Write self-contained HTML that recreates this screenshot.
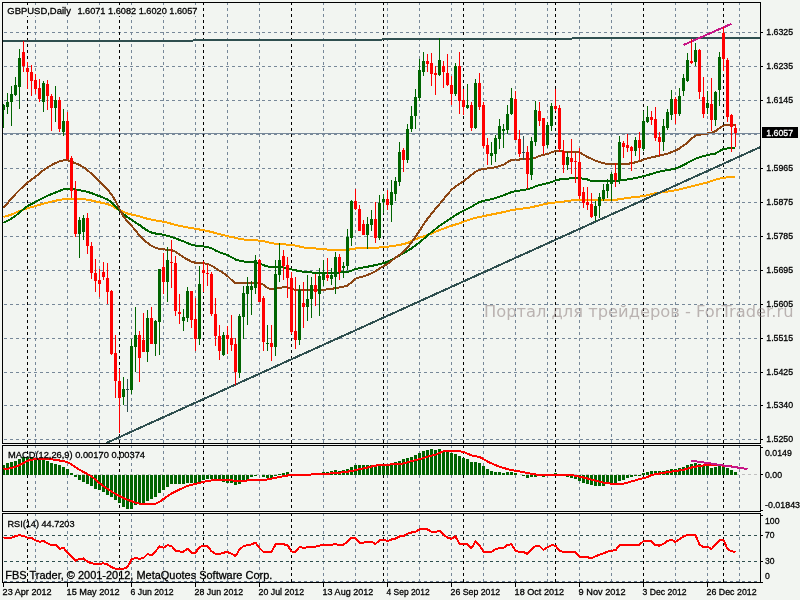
<!DOCTYPE html>
<html><head><meta charset="utf-8"><title>GBPUSD Daily</title>
<style>html,body{margin:0;padding:0;background:#f2f5f1;overflow:hidden}svg{display:block}text{font-family:"Liberation Sans",sans-serif;}</style></head><body>
<svg width="800" height="600" viewBox="0 0 800 600" shape-rendering="crispEdges">
<rect x="0" y="0" width="800" height="600" fill="#f2f5f1"/>
<g id="grid">
<line x1="4" y1="32.5" x2="760" y2="32.5" stroke="#778899" stroke-width="1" stroke-dasharray="3 3" stroke-dashoffset="0"/>
<line x1="4" y1="66.5" x2="760" y2="66.5" stroke="#778899" stroke-width="1" stroke-dasharray="3 3" stroke-dashoffset="0"/>
<line x1="4" y1="100.5" x2="760" y2="100.5" stroke="#778899" stroke-width="1" stroke-dasharray="3 3" stroke-dashoffset="0"/>
<line x1="4" y1="134.5" x2="760" y2="134.5" stroke="#778899" stroke-width="1" stroke-dasharray="3 3" stroke-dashoffset="0"/>
<line x1="4" y1="168.5" x2="760" y2="168.5" stroke="#778899" stroke-width="1" stroke-dasharray="3 3" stroke-dashoffset="0"/>
<line x1="4" y1="202.5" x2="760" y2="202.5" stroke="#778899" stroke-width="1" stroke-dasharray="3 3" stroke-dashoffset="0"/>
<line x1="4" y1="236.5" x2="760" y2="236.5" stroke="#778899" stroke-width="1" stroke-dasharray="3 3" stroke-dashoffset="0"/>
<line x1="4" y1="270.5" x2="760" y2="270.5" stroke="#778899" stroke-width="1" stroke-dasharray="3 3" stroke-dashoffset="0"/>
<line x1="4" y1="304.5" x2="760" y2="304.5" stroke="#778899" stroke-width="1" stroke-dasharray="3 3" stroke-dashoffset="0"/>
<line x1="4" y1="338.5" x2="760" y2="338.5" stroke="#778899" stroke-width="1" stroke-dasharray="3 3" stroke-dashoffset="0"/>
<line x1="4" y1="372.5" x2="760" y2="372.5" stroke="#778899" stroke-width="1" stroke-dasharray="3 3" stroke-dashoffset="0"/>
<line x1="4" y1="405.5" x2="760" y2="405.5" stroke="#778899" stroke-width="1" stroke-dasharray="3 3" stroke-dashoffset="0"/>
<line x1="4" y1="439.5" x2="760" y2="439.5" stroke="#778899" stroke-width="1" stroke-dasharray="3 3" stroke-dashoffset="0"/>
<line x1="35.5" y1="2" x2="35.5" y2="443" stroke="#778899" stroke-width="1" stroke-dasharray="3 3" stroke-dashoffset="0"/>
<line x1="67.5" y1="2" x2="67.5" y2="443" stroke="#778899" stroke-width="1" stroke-dasharray="3 3" stroke-dashoffset="0"/>
<line x1="99.5" y1="2" x2="99.5" y2="443" stroke="#778899" stroke-width="1" stroke-dasharray="3 3" stroke-dashoffset="0"/>
<line x1="131.5" y1="2" x2="131.5" y2="443" stroke="#778899" stroke-width="1" stroke-dasharray="3 3" stroke-dashoffset="0"/>
<line x1="163.5" y1="2" x2="163.5" y2="443" stroke="#778899" stroke-width="1" stroke-dasharray="3 3" stroke-dashoffset="0"/>
<line x1="195.5" y1="2" x2="195.5" y2="443" stroke="#778899" stroke-width="1" stroke-dasharray="3 3" stroke-dashoffset="0"/>
<line x1="227.5" y1="2" x2="227.5" y2="443" stroke="#778899" stroke-width="1" stroke-dasharray="3 3" stroke-dashoffset="0"/>
<line x1="259.5" y1="2" x2="259.5" y2="443" stroke="#778899" stroke-width="1" stroke-dasharray="3 3" stroke-dashoffset="0"/>
<line x1="323.5" y1="2" x2="323.5" y2="443" stroke="#778899" stroke-width="1" stroke-dasharray="3 3" stroke-dashoffset="0"/>
<line x1="355.5" y1="2" x2="355.5" y2="443" stroke="#778899" stroke-width="1" stroke-dasharray="3 3" stroke-dashoffset="0"/>
<line x1="387.5" y1="2" x2="387.5" y2="443" stroke="#778899" stroke-width="1" stroke-dasharray="3 3" stroke-dashoffset="0"/>
<line x1="419.5" y1="2" x2="419.5" y2="443" stroke="#778899" stroke-width="1" stroke-dasharray="3 3" stroke-dashoffset="0"/>
<line x1="451.5" y1="2" x2="451.5" y2="443" stroke="#778899" stroke-width="1" stroke-dasharray="3 3" stroke-dashoffset="0"/>
<line x1="483.5" y1="2" x2="483.5" y2="443" stroke="#778899" stroke-width="1" stroke-dasharray="3 3" stroke-dashoffset="0"/>
<line x1="515.5" y1="2" x2="515.5" y2="443" stroke="#778899" stroke-width="1" stroke-dasharray="3 3" stroke-dashoffset="0"/>
<line x1="547.5" y1="2" x2="547.5" y2="443" stroke="#778899" stroke-width="1" stroke-dasharray="3 3" stroke-dashoffset="0"/>
<line x1="579.5" y1="2" x2="579.5" y2="443" stroke="#778899" stroke-width="1" stroke-dasharray="3 3" stroke-dashoffset="0"/>
<line x1="611.5" y1="2" x2="611.5" y2="443" stroke="#778899" stroke-width="1" stroke-dasharray="3 3" stroke-dashoffset="0"/>
<line x1="675.5" y1="2" x2="675.5" y2="443" stroke="#778899" stroke-width="1" stroke-dasharray="3 3" stroke-dashoffset="0"/>
<line x1="707.5" y1="2" x2="707.5" y2="443" stroke="#778899" stroke-width="1" stroke-dasharray="3 3" stroke-dashoffset="0"/>
<line x1="739.5" y1="2" x2="739.5" y2="443" stroke="#778899" stroke-width="1" stroke-dasharray="3 3" stroke-dashoffset="0"/>
<line x1="27.5" y1="2" x2="27.5" y2="443" stroke="#000" stroke-width="1" stroke-dasharray="3 3" stroke-dashoffset="0"/>
<line x1="119.5" y1="2" x2="119.5" y2="443" stroke="#000" stroke-width="1" stroke-dasharray="3 3" stroke-dashoffset="0"/>
<line x1="203.5" y1="2" x2="203.5" y2="443" stroke="#000" stroke-width="1" stroke-dasharray="3 3" stroke-dashoffset="0"/>
<line x1="291.5" y1="2" x2="291.5" y2="443" stroke="#000" stroke-width="1" stroke-dasharray="3 3" stroke-dashoffset="0"/>
<line x1="383.5" y1="2" x2="383.5" y2="443" stroke="#000" stroke-width="1" stroke-dasharray="3 3" stroke-dashoffset="0"/>
<line x1="463.5" y1="2" x2="463.5" y2="443" stroke="#000" stroke-width="1" stroke-dasharray="3 3" stroke-dashoffset="0"/>
<line x1="555.5" y1="2" x2="555.5" y2="443" stroke="#000" stroke-width="1" stroke-dasharray="3 3" stroke-dashoffset="0"/>
<line x1="643.5" y1="2" x2="643.5" y2="443" stroke="#000" stroke-width="1" stroke-dasharray="3 3" stroke-dashoffset="0"/>
<line x1="723.5" y1="2" x2="723.5" y2="443" stroke="#000" stroke-width="1" stroke-dasharray="3 3" stroke-dashoffset="0"/>
<line x1="35.5" y1="445" x2="35.5" y2="511" stroke="#778899" stroke-width="1" stroke-dasharray="3 3" stroke-dashoffset="0"/>
<line x1="67.5" y1="445" x2="67.5" y2="511" stroke="#778899" stroke-width="1" stroke-dasharray="3 3" stroke-dashoffset="0"/>
<line x1="99.5" y1="445" x2="99.5" y2="511" stroke="#778899" stroke-width="1" stroke-dasharray="3 3" stroke-dashoffset="0"/>
<line x1="131.5" y1="445" x2="131.5" y2="511" stroke="#778899" stroke-width="1" stroke-dasharray="3 3" stroke-dashoffset="0"/>
<line x1="163.5" y1="445" x2="163.5" y2="511" stroke="#778899" stroke-width="1" stroke-dasharray="3 3" stroke-dashoffset="0"/>
<line x1="195.5" y1="445" x2="195.5" y2="511" stroke="#778899" stroke-width="1" stroke-dasharray="3 3" stroke-dashoffset="0"/>
<line x1="227.5" y1="445" x2="227.5" y2="511" stroke="#778899" stroke-width="1" stroke-dasharray="3 3" stroke-dashoffset="0"/>
<line x1="259.5" y1="445" x2="259.5" y2="511" stroke="#778899" stroke-width="1" stroke-dasharray="3 3" stroke-dashoffset="0"/>
<line x1="323.5" y1="445" x2="323.5" y2="511" stroke="#778899" stroke-width="1" stroke-dasharray="3 3" stroke-dashoffset="0"/>
<line x1="355.5" y1="445" x2="355.5" y2="511" stroke="#778899" stroke-width="1" stroke-dasharray="3 3" stroke-dashoffset="0"/>
<line x1="387.5" y1="445" x2="387.5" y2="511" stroke="#778899" stroke-width="1" stroke-dasharray="3 3" stroke-dashoffset="0"/>
<line x1="419.5" y1="445" x2="419.5" y2="511" stroke="#778899" stroke-width="1" stroke-dasharray="3 3" stroke-dashoffset="0"/>
<line x1="451.5" y1="445" x2="451.5" y2="511" stroke="#778899" stroke-width="1" stroke-dasharray="3 3" stroke-dashoffset="0"/>
<line x1="483.5" y1="445" x2="483.5" y2="511" stroke="#778899" stroke-width="1" stroke-dasharray="3 3" stroke-dashoffset="0"/>
<line x1="515.5" y1="445" x2="515.5" y2="511" stroke="#778899" stroke-width="1" stroke-dasharray="3 3" stroke-dashoffset="0"/>
<line x1="547.5" y1="445" x2="547.5" y2="511" stroke="#778899" stroke-width="1" stroke-dasharray="3 3" stroke-dashoffset="0"/>
<line x1="579.5" y1="445" x2="579.5" y2="511" stroke="#778899" stroke-width="1" stroke-dasharray="3 3" stroke-dashoffset="0"/>
<line x1="611.5" y1="445" x2="611.5" y2="511" stroke="#778899" stroke-width="1" stroke-dasharray="3 3" stroke-dashoffset="0"/>
<line x1="675.5" y1="445" x2="675.5" y2="511" stroke="#778899" stroke-width="1" stroke-dasharray="3 3" stroke-dashoffset="0"/>
<line x1="707.5" y1="445" x2="707.5" y2="511" stroke="#778899" stroke-width="1" stroke-dasharray="3 3" stroke-dashoffset="0"/>
<line x1="739.5" y1="445" x2="739.5" y2="511" stroke="#778899" stroke-width="1" stroke-dasharray="3 3" stroke-dashoffset="0"/>
<line x1="27.5" y1="445" x2="27.5" y2="511" stroke="#000" stroke-width="1" stroke-dasharray="3 3" stroke-dashoffset="0"/>
<line x1="119.5" y1="445" x2="119.5" y2="511" stroke="#000" stroke-width="1" stroke-dasharray="3 3" stroke-dashoffset="0"/>
<line x1="203.5" y1="445" x2="203.5" y2="511" stroke="#000" stroke-width="1" stroke-dasharray="3 3" stroke-dashoffset="0"/>
<line x1="291.5" y1="445" x2="291.5" y2="511" stroke="#000" stroke-width="1" stroke-dasharray="3 3" stroke-dashoffset="0"/>
<line x1="383.5" y1="445" x2="383.5" y2="511" stroke="#000" stroke-width="1" stroke-dasharray="3 3" stroke-dashoffset="0"/>
<line x1="463.5" y1="445" x2="463.5" y2="511" stroke="#000" stroke-width="1" stroke-dasharray="3 3" stroke-dashoffset="0"/>
<line x1="555.5" y1="445" x2="555.5" y2="511" stroke="#000" stroke-width="1" stroke-dasharray="3 3" stroke-dashoffset="0"/>
<line x1="643.5" y1="445" x2="643.5" y2="511" stroke="#000" stroke-width="1" stroke-dasharray="3 3" stroke-dashoffset="0"/>
<line x1="723.5" y1="445" x2="723.5" y2="511" stroke="#000" stroke-width="1" stroke-dasharray="3 3" stroke-dashoffset="0"/>
<line x1="35.5" y1="513" x2="35.5" y2="582" stroke="#778899" stroke-width="1" stroke-dasharray="3 3" stroke-dashoffset="0"/>
<line x1="67.5" y1="513" x2="67.5" y2="582" stroke="#778899" stroke-width="1" stroke-dasharray="3 3" stroke-dashoffset="0"/>
<line x1="99.5" y1="513" x2="99.5" y2="582" stroke="#778899" stroke-width="1" stroke-dasharray="3 3" stroke-dashoffset="0"/>
<line x1="131.5" y1="513" x2="131.5" y2="582" stroke="#778899" stroke-width="1" stroke-dasharray="3 3" stroke-dashoffset="0"/>
<line x1="163.5" y1="513" x2="163.5" y2="582" stroke="#778899" stroke-width="1" stroke-dasharray="3 3" stroke-dashoffset="0"/>
<line x1="195.5" y1="513" x2="195.5" y2="582" stroke="#778899" stroke-width="1" stroke-dasharray="3 3" stroke-dashoffset="0"/>
<line x1="227.5" y1="513" x2="227.5" y2="582" stroke="#778899" stroke-width="1" stroke-dasharray="3 3" stroke-dashoffset="0"/>
<line x1="259.5" y1="513" x2="259.5" y2="582" stroke="#778899" stroke-width="1" stroke-dasharray="3 3" stroke-dashoffset="0"/>
<line x1="323.5" y1="513" x2="323.5" y2="582" stroke="#778899" stroke-width="1" stroke-dasharray="3 3" stroke-dashoffset="0"/>
<line x1="355.5" y1="513" x2="355.5" y2="582" stroke="#778899" stroke-width="1" stroke-dasharray="3 3" stroke-dashoffset="0"/>
<line x1="387.5" y1="513" x2="387.5" y2="582" stroke="#778899" stroke-width="1" stroke-dasharray="3 3" stroke-dashoffset="0"/>
<line x1="419.5" y1="513" x2="419.5" y2="582" stroke="#778899" stroke-width="1" stroke-dasharray="3 3" stroke-dashoffset="0"/>
<line x1="451.5" y1="513" x2="451.5" y2="582" stroke="#778899" stroke-width="1" stroke-dasharray="3 3" stroke-dashoffset="0"/>
<line x1="483.5" y1="513" x2="483.5" y2="582" stroke="#778899" stroke-width="1" stroke-dasharray="3 3" stroke-dashoffset="0"/>
<line x1="515.5" y1="513" x2="515.5" y2="582" stroke="#778899" stroke-width="1" stroke-dasharray="3 3" stroke-dashoffset="0"/>
<line x1="547.5" y1="513" x2="547.5" y2="582" stroke="#778899" stroke-width="1" stroke-dasharray="3 3" stroke-dashoffset="0"/>
<line x1="579.5" y1="513" x2="579.5" y2="582" stroke="#778899" stroke-width="1" stroke-dasharray="3 3" stroke-dashoffset="0"/>
<line x1="611.5" y1="513" x2="611.5" y2="582" stroke="#778899" stroke-width="1" stroke-dasharray="3 3" stroke-dashoffset="0"/>
<line x1="675.5" y1="513" x2="675.5" y2="582" stroke="#778899" stroke-width="1" stroke-dasharray="3 3" stroke-dashoffset="0"/>
<line x1="707.5" y1="513" x2="707.5" y2="582" stroke="#778899" stroke-width="1" stroke-dasharray="3 3" stroke-dashoffset="0"/>
<line x1="739.5" y1="513" x2="739.5" y2="582" stroke="#778899" stroke-width="1" stroke-dasharray="3 3" stroke-dashoffset="0"/>
<line x1="27.5" y1="513" x2="27.5" y2="582" stroke="#000" stroke-width="1" stroke-dasharray="3 3" stroke-dashoffset="0"/>
<line x1="119.5" y1="513" x2="119.5" y2="582" stroke="#000" stroke-width="1" stroke-dasharray="3 3" stroke-dashoffset="0"/>
<line x1="203.5" y1="513" x2="203.5" y2="582" stroke="#000" stroke-width="1" stroke-dasharray="3 3" stroke-dashoffset="0"/>
<line x1="291.5" y1="513" x2="291.5" y2="582" stroke="#000" stroke-width="1" stroke-dasharray="3 3" stroke-dashoffset="0"/>
<line x1="383.5" y1="513" x2="383.5" y2="582" stroke="#000" stroke-width="1" stroke-dasharray="3 3" stroke-dashoffset="0"/>
<line x1="463.5" y1="513" x2="463.5" y2="582" stroke="#000" stroke-width="1" stroke-dasharray="3 3" stroke-dashoffset="0"/>
<line x1="555.5" y1="513" x2="555.5" y2="582" stroke="#000" stroke-width="1" stroke-dasharray="3 3" stroke-dashoffset="0"/>
<line x1="643.5" y1="513" x2="643.5" y2="582" stroke="#000" stroke-width="1" stroke-dasharray="3 3" stroke-dashoffset="0"/>
<line x1="723.5" y1="513" x2="723.5" y2="582" stroke="#000" stroke-width="1" stroke-dasharray="3 3" stroke-dashoffset="0"/>
</g>
<line x1="4" y1="535.5" x2="760" y2="535.5" stroke="#2f4f4f" stroke-width="1" stroke-dasharray="3 3" stroke-dashoffset="0"/>
<line x1="4" y1="561.5" x2="760" y2="561.5" stroke="#2f4f4f" stroke-width="1" stroke-dasharray="3 3" stroke-dashoffset="0"/>
<line x1="4" y1="581.5" x2="760" y2="581.5" stroke="#66788a" stroke-width="1" stroke-dasharray="3 3" stroke-dashoffset="0"/>
<line x1="4" y1="474.5" x2="760" y2="474.5" stroke="#c0c0c0" stroke-width="1" stroke-dasharray="3 3" stroke-dashoffset="0"/>
<rect x="5" y="5" width="195" height="11" fill="#f2f5f1"/>
<polyline points="3.5,217.0 7.5,215.8 11.5,214.5 15.5,212.8 19.5,211.0 23.5,209.6 27.5,208.3 31.5,207.2 35.5,206.1 39.5,204.8 43.5,203.6 47.5,202.6 51.5,201.6 55.5,200.7 59.5,199.9 63.5,199.3 67.5,198.9 71.5,198.6 75.5,198.6 79.5,198.8 83.5,199.1 87.5,199.7 91.5,200.5 95.5,201.4 99.5,202.3 103.5,203.2 107.5,204.2 111.5,205.6 115.5,208.0 119.5,210.1 123.5,212.0 127.5,213.5 131.5,214.5 135.5,215.4 139.5,216.4 143.5,217.6 147.5,218.8 151.5,219.7 155.5,220.4 159.5,221.1 163.5,221.8 167.5,222.7 171.5,223.8 175.5,224.9 179.5,225.8 183.5,226.7 187.5,227.4 191.5,228.1 195.5,228.8 199.5,229.5 203.5,230.2 207.5,231.0 211.5,232.0 215.5,233.0 219.5,234.1 223.5,235.1 227.5,236.1 231.5,237.0 235.5,237.9 239.5,238.8 243.5,239.5 247.5,240.0 251.5,240.2 255.5,240.4 259.5,240.6 263.5,241.2 267.5,242.1 271.5,243.1 275.5,243.8 279.5,244.1 283.5,244.4 287.5,244.6 291.5,245.0 295.5,245.6 299.5,246.5 303.5,247.4 307.5,248.0 311.5,248.3 315.5,248.5 319.5,248.7 323.5,249.0 327.5,249.6 331.5,249.8 335.5,249.8 339.5,249.8 343.5,249.8 347.5,249.8 351.5,249.2 355.5,248.5 359.5,248.3 363.5,248.2 367.5,248.1 371.5,247.9 375.5,247.8 379.5,247.5 383.5,247.2 387.5,246.7 391.5,246.1 395.5,245.6 399.5,244.9 403.5,244.1 407.5,242.9 411.5,241.0 415.5,239.3 419.5,237.7 423.5,236.5 427.5,235.2 431.5,233.5 435.5,231.7 439.5,230.1 443.5,228.6 447.5,227.1 451.5,225.8 455.5,224.5 459.5,223.3 463.5,221.8 467.5,220.2 471.5,219.0 475.5,217.9 479.5,217.0 483.5,216.1 487.5,215.3 491.5,214.5 495.5,213.7 499.5,212.9 503.5,212.1 507.5,211.1 511.5,210.2 515.5,209.5 519.5,209.0 523.5,208.5 527.5,207.9 531.5,207.2 535.5,206.3 539.5,205.3 543.5,204.3 547.5,203.5 551.5,202.9 555.5,202.5 559.5,202.1 563.5,201.6 567.5,201.0 571.5,200.5 575.5,200.1 579.5,200.0 583.5,200.0 587.5,200.0 591.5,200.0 595.5,200.0 599.5,200.0 603.5,200.0 607.5,200.0 611.5,200.0 615.5,199.8 619.5,199.2 623.5,198.6 627.5,198.0 631.5,197.5 635.5,197.1 639.5,196.6 643.5,196.0 647.5,195.2 651.5,194.2 655.5,193.3 659.5,192.7 663.5,192.1 667.5,191.6 671.5,191.0 675.5,190.3 679.5,189.4 683.5,188.4 687.5,187.3 691.5,186.3 695.5,185.3 699.5,184.3 703.5,183.3 707.5,182.3 711.5,181.0 715.5,179.7 719.5,178.6 723.5,177.8 727.5,177.4 731.5,177.1 735.5,177.0" fill="none" stroke="#ffa500" stroke-width="2" stroke-linejoin="round"/>
<polyline points="3.5,222.8 7.5,220.9 11.5,218.6 15.5,215.8 19.5,212.6 23.5,209.2 27.5,206.1 31.5,203.9 35.5,201.9 39.5,199.8 43.5,197.7 47.5,195.8 51.5,194.1 55.5,192.5 59.5,191.0 63.5,189.3 67.5,188.8 71.5,189.0 75.5,189.5 79.5,190.2 83.5,190.9 87.5,191.9 91.5,193.2 95.5,194.7 99.5,196.2 103.5,197.7 107.5,199.6 111.5,202.1 115.5,206.1 119.5,210.4 123.5,214.2 127.5,217.1 131.5,219.8 135.5,222.4 139.5,225.0 143.5,228.0 147.5,230.7 151.5,232.6 155.5,233.5 159.5,234.1 163.5,234.8 167.5,235.8 171.5,237.1 175.5,238.4 179.5,239.8 183.5,241.4 187.5,243.1 191.5,244.7 195.5,245.7 199.5,246.1 203.5,246.5 207.5,247.0 211.5,248.3 215.5,250.4 219.5,252.3 223.5,253.6 227.5,255.0 231.5,257.2 235.5,259.5 239.5,260.6 243.5,261.4 247.5,261.9 251.5,262.0 255.5,262.0 259.5,263.1 263.5,265.2 267.5,266.5 271.5,266.7 275.5,266.8 279.5,267.0 283.5,267.6 287.5,268.5 291.5,269.4 295.5,270.3 299.5,271.1 303.5,271.8 307.5,272.2 311.5,272.5 315.5,272.7 319.5,272.8 323.5,272.8 327.5,272.8 331.5,272.7 335.5,272.7 339.5,272.5 343.5,272.3 347.5,272.0 351.5,270.7 355.5,269.0 359.5,268.1 363.5,267.4 367.5,266.7 371.5,265.9 375.5,265.1 379.5,264.1 383.5,263.1 387.5,261.9 391.5,260.0 395.5,257.8 399.5,255.5 403.5,253.2 407.5,250.9 411.5,248.4 415.5,245.4 419.5,242.3 423.5,239.0 427.5,235.6 431.5,232.2 435.5,229.0 439.5,225.9 443.5,223.1 447.5,220.4 451.5,217.8 455.5,215.2 459.5,212.8 463.5,210.7 467.5,208.8 471.5,206.7 475.5,204.2 479.5,202.1 483.5,200.9 487.5,200.0 491.5,199.2 495.5,198.1 499.5,196.8 503.5,195.3 507.5,193.7 511.5,192.2 515.5,191.2 519.5,190.6 523.5,190.0 527.5,189.3 531.5,188.2 535.5,186.4 539.5,185.0 543.5,184.1 547.5,183.2 551.5,182.1 555.5,180.3 559.5,179.5 563.5,179.1 567.5,178.8 571.5,178.1 575.5,178.0 579.5,178.3 583.5,178.6 587.5,179.5 591.5,181.1 595.5,181.2 599.5,181.2 603.5,181.2 607.5,181.2 611.5,181.2 615.5,181.1 619.5,180.6 623.5,180.0 627.5,179.4 631.5,178.8 635.5,178.0 639.5,177.2 643.5,176.2 647.5,175.2 651.5,173.9 655.5,172.7 659.5,171.6 663.5,170.8 667.5,170.1 671.5,169.4 675.5,168.5 679.5,167.1 683.5,165.1 687.5,162.9 691.5,160.7 695.5,158.8 699.5,157.3 703.5,156.1 707.5,155.0 711.5,154.3 715.5,153.5 719.5,151.1 723.5,149.0 727.5,148.4 731.5,148.1 735.5,148.0" fill="none" stroke="#006400" stroke-width="2" stroke-linejoin="round"/>
<polyline points="3.5,208.1 7.5,203.2 11.5,198.5 15.5,194.1 19.5,190.0 23.5,186.2 27.5,182.7 31.5,179.7 35.5,176.8 39.5,173.4 43.5,170.1 47.5,167.4 51.5,165.1 55.5,163.0 59.5,161.4 63.5,160.3 67.5,160.2 71.5,161.7 75.5,163.3 79.5,165.0 83.5,167.2 87.5,170.2 91.5,173.8 95.5,177.6 99.5,181.4 103.5,185.3 107.5,189.6 111.5,194.4 115.5,200.8 119.5,209.0 123.5,216.3 127.5,221.6 131.5,225.7 135.5,230.5 139.5,235.4 143.5,239.5 147.5,242.9 151.5,245.9 155.5,247.8 159.5,248.8 163.5,249.4 167.5,249.7 171.5,250.1 175.5,251.8 179.5,254.6 183.5,257.2 187.5,259.5 191.5,261.7 195.5,262.8 199.5,263.1 203.5,263.4 207.5,263.8 211.5,265.6 215.5,268.3 219.5,270.7 223.5,273.2 227.5,276.0 231.5,280.0 235.5,283.0 239.5,283.0 243.5,283.0 247.5,283.0 251.5,283.0 255.5,283.0 259.5,283.0 263.5,284.8 267.5,288.0 271.5,289.4 275.5,288.8 279.5,288.0 283.5,287.1 287.5,287.6 291.5,289.2 295.5,289.7 299.5,290.0 303.5,290.0 307.5,290.0 311.5,290.0 315.5,290.0 319.5,290.0 323.5,289.7 327.5,289.4 331.5,288.9 335.5,288.1 339.5,287.4 343.5,286.7 347.5,285.6 351.5,282.3 355.5,278.8 359.5,277.4 363.5,276.3 367.5,274.9 371.5,273.2 375.5,271.2 379.5,268.4 383.5,266.1 387.5,263.8 391.5,260.8 395.5,257.7 399.5,254.9 403.5,251.6 407.5,247.4 411.5,242.5 415.5,236.8 419.5,230.8 423.5,224.6 427.5,218.8 431.5,213.6 435.5,208.8 439.5,204.1 443.5,199.4 447.5,194.3 451.5,189.8 455.5,186.5 459.5,183.8 463.5,181.1 467.5,178.1 471.5,174.8 475.5,171.8 479.5,169.9 483.5,169.0 487.5,168.5 491.5,168.0 495.5,167.2 499.5,166.1 503.5,164.8 507.5,162.2 511.5,159.8 515.5,159.5 519.5,159.5 523.5,159.4 527.5,159.2 531.5,158.9 535.5,157.7 539.5,155.8 543.5,154.8 547.5,154.0 551.5,152.4 555.5,150.9 559.5,150.8 563.5,151.5 567.5,151.5 571.5,151.5 575.5,151.5 579.5,152.5 583.5,154.8 587.5,157.0 591.5,158.8 595.5,160.6 599.5,162.0 603.5,163.1 607.5,164.0 611.5,164.4 615.5,164.4 619.5,164.2 623.5,164.0 627.5,163.8 631.5,163.2 635.5,162.3 639.5,161.2 643.5,159.8 647.5,158.3 651.5,157.3 655.5,156.5 659.5,155.7 663.5,154.7 667.5,153.6 671.5,152.2 675.5,150.6 679.5,148.4 683.5,145.6 687.5,142.5 691.5,138.6 695.5,135.6 699.5,134.7 703.5,134.2 707.5,133.5 711.5,132.6 715.5,131.2 719.5,128.2 723.5,125.6 727.5,125.0 731.5,124.8 735.5,125.6" fill="none" stroke="#8b4513" stroke-width="2" stroke-linejoin="round"/>
<rect x="3" y="40" width="190" height="2" fill="#2f4f4f"/>
<rect x="193" y="39" width="189" height="2" fill="#2f4f4f"/>
<rect x="382" y="38" width="190" height="2" fill="#2f4f4f"/>
<rect x="572" y="37" width="188" height="2" fill="#2f4f4f"/>
<polyline points="106.4,443.0 760.0,147.2" fill="none" stroke="#2f4f4f" stroke-width="2" stroke-linejoin="round"/>
<polyline points="683.5,45.0 731.5,23.8" fill="none" stroke="#c71585" stroke-width="2" stroke-linejoin="round"/>
<line x1="3" y1="133.5" x2="760" y2="133.5" stroke="#778899" stroke-width="1"/>
<g id="candles">
<rect x="3" y="104" width="1" height="24" fill="#006400"/>
<rect x="2" y="105" width="3" height="5" fill="#006400"/>
<rect x="7" y="93" width="1" height="21" fill="#006400"/>
<rect x="6" y="102" width="3" height="5" fill="#006400"/>
<rect x="11" y="86" width="1" height="40" fill="#006400"/>
<rect x="10" y="94" width="3" height="8" fill="#006400"/>
<rect x="15" y="77" width="1" height="19" fill="#006400"/>
<rect x="14" y="85" width="3" height="10" fill="#006400"/>
<rect x="19" y="49" width="1" height="60" fill="#006400"/>
<rect x="18" y="58" width="3" height="29" fill="#006400"/>
<rect x="23" y="41" width="1" height="31" fill="#ff0000"/>
<rect x="22" y="52" width="3" height="14" fill="#ff0000"/>
<rect x="27" y="62" width="1" height="27" fill="#ff0000"/>
<rect x="26" y="68" width="3" height="4" fill="#ff0000"/>
<rect x="31" y="65" width="1" height="31" fill="#ff0000"/>
<rect x="30" y="72" width="3" height="9" fill="#ff0000"/>
<rect x="35" y="74" width="1" height="20" fill="#ff0000"/>
<rect x="34" y="80" width="3" height="9" fill="#ff0000"/>
<rect x="39" y="79" width="1" height="23" fill="#ff0000"/>
<rect x="38" y="88" width="3" height="11" fill="#ff0000"/>
<rect x="43" y="81" width="1" height="31" fill="#006400"/>
<rect x="42" y="83" width="3" height="19" fill="#006400"/>
<rect x="47" y="80" width="1" height="30" fill="#ff0000"/>
<rect x="46" y="84" width="3" height="12" fill="#ff0000"/>
<rect x="51" y="94" width="1" height="37" fill="#ff0000"/>
<rect x="50" y="96" width="3" height="12" fill="#ff0000"/>
<rect x="55" y="86" width="1" height="36" fill="#006400"/>
<rect x="54" y="100" width="3" height="8" fill="#006400"/>
<rect x="59" y="97" width="1" height="35" fill="#ff0000"/>
<rect x="58" y="100" width="3" height="29" fill="#ff0000"/>
<rect x="63" y="109" width="1" height="27" fill="#006400"/>
<rect x="62" y="121" width="3" height="11" fill="#006400"/>
<rect x="67" y="112" width="1" height="48" fill="#ff0000"/>
<rect x="66" y="121" width="3" height="38" fill="#ff0000"/>
<rect x="71" y="156" width="1" height="42" fill="#ff0000"/>
<rect x="70" y="158" width="3" height="33" fill="#ff0000"/>
<rect x="75" y="181" width="1" height="56" fill="#ff0000"/>
<rect x="74" y="190" width="3" height="44" fill="#ff0000"/>
<rect x="79" y="217" width="1" height="41" fill="#006400"/>
<rect x="78" y="220" width="3" height="14" fill="#006400"/>
<rect x="83" y="215" width="1" height="25" fill="#006400"/>
<rect x="82" y="218" width="3" height="14" fill="#006400"/>
<rect x="87" y="213" width="1" height="41" fill="#ff0000"/>
<rect x="86" y="218" width="3" height="28" fill="#ff0000"/>
<rect x="91" y="242" width="1" height="37" fill="#ff0000"/>
<rect x="90" y="246" width="3" height="27" fill="#ff0000"/>
<rect x="95" y="259" width="1" height="33" fill="#ff0000"/>
<rect x="94" y="273" width="3" height="8" fill="#ff0000"/>
<rect x="99" y="269" width="1" height="28" fill="#ff0000"/>
<rect x="98" y="280" width="3" height="4" fill="#ff0000"/>
<rect x="103" y="262" width="1" height="18" fill="#ff0000"/>
<rect x="102" y="272" width="3" height="5" fill="#ff0000"/>
<rect x="107" y="263" width="1" height="41" fill="#ff0000"/>
<rect x="106" y="278" width="3" height="14" fill="#ff0000"/>
<rect x="111" y="290" width="1" height="65" fill="#ff0000"/>
<rect x="110" y="291" width="3" height="63" fill="#ff0000"/>
<rect x="115" y="335" width="1" height="63" fill="#ff0000"/>
<rect x="114" y="353" width="3" height="28" fill="#ff0000"/>
<rect x="119" y="369" width="1" height="64" fill="#ff0000"/>
<rect x="118" y="381" width="3" height="17" fill="#ff0000"/>
<rect x="123" y="377" width="1" height="28" fill="#006400"/>
<rect x="122" y="389" width="3" height="8" fill="#006400"/>
<rect x="127" y="379" width="1" height="33" fill="#2f4f4f"/>
<rect x="126" y="389" width="3" height="1" fill="#2f4f4f"/>
<rect x="131" y="339" width="1" height="55" fill="#006400"/>
<rect x="130" y="346" width="3" height="44" fill="#006400"/>
<rect x="135" y="307" width="1" height="65" fill="#006400"/>
<rect x="134" y="335" width="3" height="12" fill="#006400"/>
<rect x="139" y="331" width="1" height="51" fill="#ff0000"/>
<rect x="138" y="335" width="3" height="23" fill="#ff0000"/>
<rect x="143" y="313" width="1" height="39" fill="#ff0000"/>
<rect x="142" y="340" width="3" height="12" fill="#ff0000"/>
<rect x="147" y="310" width="1" height="52" fill="#006400"/>
<rect x="146" y="318" width="3" height="34" fill="#006400"/>
<rect x="151" y="307" width="1" height="37" fill="#ff0000"/>
<rect x="150" y="318" width="3" height="26" fill="#ff0000"/>
<rect x="155" y="320" width="1" height="36" fill="#006400"/>
<rect x="154" y="321" width="3" height="23" fill="#006400"/>
<rect x="159" y="269" width="1" height="86" fill="#006400"/>
<rect x="158" y="269" width="3" height="53" fill="#006400"/>
<rect x="163" y="253" width="1" height="41" fill="#ff0000"/>
<rect x="162" y="267" width="3" height="15" fill="#ff0000"/>
<rect x="167" y="247" width="1" height="55" fill="#006400"/>
<rect x="166" y="260" width="3" height="22" fill="#006400"/>
<rect x="171" y="240" width="1" height="48" fill="#ff0000"/>
<rect x="170" y="262" width="3" height="1" fill="#ff0000"/>
<rect x="175" y="256" width="1" height="60" fill="#ff0000"/>
<rect x="174" y="263" width="3" height="48" fill="#ff0000"/>
<rect x="179" y="294" width="1" height="30" fill="#ff0000"/>
<rect x="178" y="312" width="3" height="2" fill="#ff0000"/>
<rect x="183" y="309" width="1" height="22" fill="#006400"/>
<rect x="182" y="317" width="3" height="4" fill="#006400"/>
<rect x="187" y="287" width="1" height="35" fill="#006400"/>
<rect x="186" y="291" width="3" height="27" fill="#006400"/>
<rect x="191" y="291" width="1" height="37" fill="#ff0000"/>
<rect x="190" y="291" width="3" height="29" fill="#ff0000"/>
<rect x="195" y="298" width="1" height="53" fill="#ff0000"/>
<rect x="194" y="319" width="3" height="20" fill="#ff0000"/>
<rect x="199" y="266" width="1" height="79" fill="#006400"/>
<rect x="198" y="284" width="3" height="55" fill="#006400"/>
<rect x="203" y="261" width="1" height="31" fill="#ff0000"/>
<rect x="202" y="270" width="3" height="3" fill="#ff0000"/>
<rect x="207" y="264" width="1" height="22" fill="#ff0000"/>
<rect x="206" y="273" width="3" height="1" fill="#ff0000"/>
<rect x="211" y="272" width="1" height="44" fill="#ff0000"/>
<rect x="210" y="274" width="3" height="40" fill="#ff0000"/>
<rect x="215" y="298" width="1" height="48" fill="#ff0000"/>
<rect x="214" y="314" width="3" height="22" fill="#ff0000"/>
<rect x="219" y="325" width="1" height="35" fill="#ff0000"/>
<rect x="218" y="336" width="3" height="15" fill="#ff0000"/>
<rect x="223" y="332" width="1" height="24" fill="#006400"/>
<rect x="222" y="335" width="3" height="20" fill="#006400"/>
<rect x="227" y="326" width="1" height="28" fill="#ff0000"/>
<rect x="226" y="335" width="3" height="4" fill="#ff0000"/>
<rect x="231" y="315" width="1" height="36" fill="#ff0000"/>
<rect x="230" y="338" width="3" height="7" fill="#ff0000"/>
<rect x="235" y="338" width="1" height="47" fill="#ff0000"/>
<rect x="234" y="344" width="3" height="28" fill="#ff0000"/>
<rect x="239" y="314" width="1" height="64" fill="#006400"/>
<rect x="238" y="316" width="3" height="57" fill="#006400"/>
<rect x="243" y="286" width="1" height="53" fill="#006400"/>
<rect x="242" y="293" width="3" height="24" fill="#006400"/>
<rect x="247" y="277" width="1" height="48" fill="#006400"/>
<rect x="246" y="286" width="3" height="8" fill="#006400"/>
<rect x="251" y="281" width="1" height="34" fill="#006400"/>
<rect x="250" y="286" width="3" height="4" fill="#006400"/>
<rect x="255" y="255" width="1" height="39" fill="#006400"/>
<rect x="254" y="260" width="3" height="28" fill="#006400"/>
<rect x="259" y="259" width="1" height="43" fill="#ff0000"/>
<rect x="258" y="260" width="3" height="42" fill="#ff0000"/>
<rect x="263" y="296" width="1" height="55" fill="#ff0000"/>
<rect x="262" y="298" width="3" height="44" fill="#ff0000"/>
<rect x="267" y="325" width="1" height="26" fill="#006400"/>
<rect x="266" y="343" width="3" height="1" fill="#006400"/>
<rect x="271" y="325" width="1" height="36" fill="#ff0000"/>
<rect x="270" y="343" width="3" height="4" fill="#ff0000"/>
<rect x="275" y="260" width="1" height="96" fill="#006400"/>
<rect x="274" y="274" width="3" height="73" fill="#006400"/>
<rect x="279" y="243" width="1" height="39" fill="#006400"/>
<rect x="278" y="260" width="3" height="15" fill="#006400"/>
<rect x="283" y="250" width="1" height="30" fill="#ff0000"/>
<rect x="282" y="256" width="3" height="10" fill="#ff0000"/>
<rect x="287" y="257" width="1" height="41" fill="#ff0000"/>
<rect x="286" y="265" width="3" height="13" fill="#ff0000"/>
<rect x="291" y="272" width="1" height="62" fill="#ff0000"/>
<rect x="290" y="278" width="3" height="54" fill="#ff0000"/>
<rect x="295" y="277" width="1" height="72" fill="#ff0000"/>
<rect x="294" y="331" width="3" height="9" fill="#ff0000"/>
<rect x="299" y="285" width="1" height="60" fill="#006400"/>
<rect x="298" y="290" width="3" height="50" fill="#006400"/>
<rect x="303" y="282" width="1" height="46" fill="#ff0000"/>
<rect x="302" y="303" width="3" height="4" fill="#ff0000"/>
<rect x="307" y="275" width="1" height="46" fill="#006400"/>
<rect x="306" y="299" width="3" height="8" fill="#006400"/>
<rect x="311" y="277" width="1" height="41" fill="#006400"/>
<rect x="310" y="285" width="3" height="14" fill="#006400"/>
<rect x="315" y="274" width="1" height="32" fill="#ff0000"/>
<rect x="314" y="285" width="3" height="7" fill="#ff0000"/>
<rect x="319" y="268" width="1" height="48" fill="#006400"/>
<rect x="318" y="276" width="3" height="18" fill="#006400"/>
<rect x="323" y="260" width="1" height="26" fill="#006400"/>
<rect x="322" y="272" width="3" height="8" fill="#006400"/>
<rect x="327" y="258" width="1" height="23" fill="#ff0000"/>
<rect x="326" y="275" width="3" height="3" fill="#ff0000"/>
<rect x="331" y="268" width="1" height="17" fill="#006400"/>
<rect x="330" y="275" width="3" height="4" fill="#006400"/>
<rect x="335" y="252" width="1" height="42" fill="#006400"/>
<rect x="334" y="257" width="3" height="20" fill="#006400"/>
<rect x="339" y="254" width="1" height="26" fill="#ff0000"/>
<rect x="338" y="257" width="3" height="15" fill="#ff0000"/>
<rect x="343" y="262" width="1" height="16" fill="#006400"/>
<rect x="342" y="266" width="3" height="2" fill="#006400"/>
<rect x="347" y="229" width="1" height="41" fill="#006400"/>
<rect x="346" y="237" width="3" height="29" fill="#006400"/>
<rect x="351" y="200" width="1" height="46" fill="#006400"/>
<rect x="350" y="201" width="3" height="37" fill="#006400"/>
<rect x="355" y="189" width="1" height="21" fill="#ff0000"/>
<rect x="354" y="201" width="3" height="8" fill="#ff0000"/>
<rect x="359" y="205" width="1" height="26" fill="#ff0000"/>
<rect x="358" y="209" width="3" height="22" fill="#ff0000"/>
<rect x="363" y="220" width="1" height="15" fill="#ff0000"/>
<rect x="362" y="224" width="3" height="11" fill="#ff0000"/>
<rect x="367" y="217" width="1" height="32" fill="#006400"/>
<rect x="366" y="224" width="3" height="11" fill="#006400"/>
<rect x="371" y="210" width="1" height="21" fill="#006400"/>
<rect x="370" y="219" width="3" height="6" fill="#006400"/>
<rect x="375" y="202" width="1" height="41" fill="#ff0000"/>
<rect x="374" y="219" width="3" height="19" fill="#ff0000"/>
<rect x="379" y="195" width="1" height="45" fill="#006400"/>
<rect x="378" y="203" width="3" height="35" fill="#006400"/>
<rect x="383" y="194" width="1" height="19" fill="#006400"/>
<rect x="382" y="199" width="3" height="3" fill="#006400"/>
<rect x="387" y="190" width="1" height="20" fill="#ff0000"/>
<rect x="386" y="199" width="3" height="6" fill="#ff0000"/>
<rect x="391" y="180" width="1" height="42" fill="#006400"/>
<rect x="390" y="192" width="3" height="13" fill="#006400"/>
<rect x="395" y="177" width="1" height="24" fill="#006400"/>
<rect x="394" y="181" width="3" height="13" fill="#006400"/>
<rect x="399" y="142" width="1" height="44" fill="#006400"/>
<rect x="398" y="152" width="3" height="30" fill="#006400"/>
<rect x="403" y="148" width="1" height="24" fill="#ff0000"/>
<rect x="402" y="150" width="3" height="10" fill="#ff0000"/>
<rect x="407" y="124" width="1" height="39" fill="#006400"/>
<rect x="406" y="129" width="3" height="31" fill="#006400"/>
<rect x="411" y="106" width="1" height="26" fill="#006400"/>
<rect x="410" y="116" width="3" height="13" fill="#006400"/>
<rect x="415" y="89" width="1" height="40" fill="#006400"/>
<rect x="414" y="97" width="3" height="19" fill="#006400"/>
<rect x="419" y="59" width="1" height="42" fill="#006400"/>
<rect x="418" y="70" width="3" height="28" fill="#006400"/>
<rect x="423" y="52" width="1" height="24" fill="#006400"/>
<rect x="422" y="61" width="3" height="11" fill="#006400"/>
<rect x="427" y="54" width="1" height="18" fill="#ff0000"/>
<rect x="426" y="61" width="3" height="3" fill="#ff0000"/>
<rect x="431" y="53" width="1" height="33" fill="#ff0000"/>
<rect x="430" y="63" width="3" height="11" fill="#ff0000"/>
<rect x="435" y="66" width="1" height="29" fill="#ff0000"/>
<rect x="434" y="73" width="3" height="2" fill="#ff0000"/>
<rect x="439" y="38" width="1" height="38" fill="#006400"/>
<rect x="438" y="60" width="3" height="15" fill="#006400"/>
<rect x="443" y="61" width="1" height="27" fill="#ff0000"/>
<rect x="442" y="66" width="3" height="6" fill="#ff0000"/>
<rect x="447" y="54" width="1" height="32" fill="#ff0000"/>
<rect x="446" y="73" width="3" height="12" fill="#ff0000"/>
<rect x="451" y="76" width="1" height="29" fill="#ff0000"/>
<rect x="450" y="85" width="3" height="9" fill="#ff0000"/>
<rect x="455" y="63" width="1" height="33" fill="#006400"/>
<rect x="454" y="66" width="3" height="28" fill="#006400"/>
<rect x="459" y="52" width="1" height="62" fill="#ff0000"/>
<rect x="458" y="66" width="3" height="35" fill="#ff0000"/>
<rect x="463" y="89" width="1" height="26" fill="#ff0000"/>
<rect x="462" y="100" width="3" height="7" fill="#ff0000"/>
<rect x="467" y="84" width="1" height="25" fill="#006400"/>
<rect x="466" y="105" width="3" height="3" fill="#006400"/>
<rect x="471" y="102" width="1" height="29" fill="#ff0000"/>
<rect x="470" y="105" width="3" height="23" fill="#ff0000"/>
<rect x="475" y="79" width="1" height="50" fill="#006400"/>
<rect x="474" y="83" width="3" height="45" fill="#006400"/>
<rect x="479" y="73" width="1" height="37" fill="#ff0000"/>
<rect x="478" y="83" width="3" height="24" fill="#ff0000"/>
<rect x="483" y="102" width="1" height="46" fill="#ff0000"/>
<rect x="482" y="105" width="3" height="41" fill="#ff0000"/>
<rect x="487" y="138" width="1" height="27" fill="#ff0000"/>
<rect x="486" y="145" width="3" height="9" fill="#ff0000"/>
<rect x="491" y="142" width="1" height="23" fill="#006400"/>
<rect x="490" y="153" width="3" height="3" fill="#006400"/>
<rect x="495" y="135" width="1" height="27" fill="#006400"/>
<rect x="494" y="138" width="3" height="16" fill="#006400"/>
<rect x="499" y="119" width="1" height="30" fill="#006400"/>
<rect x="498" y="126" width="3" height="13" fill="#006400"/>
<rect x="503" y="124" width="1" height="24" fill="#006400"/>
<rect x="502" y="129" width="3" height="2" fill="#006400"/>
<rect x="507" y="105" width="1" height="29" fill="#006400"/>
<rect x="506" y="114" width="3" height="16" fill="#006400"/>
<rect x="511" y="88" width="1" height="27" fill="#006400"/>
<rect x="510" y="98" width="3" height="16" fill="#006400"/>
<rect x="515" y="91" width="1" height="49" fill="#ff0000"/>
<rect x="514" y="99" width="3" height="41" fill="#ff0000"/>
<rect x="519" y="130" width="1" height="27" fill="#ff0000"/>
<rect x="518" y="139" width="3" height="15" fill="#ff0000"/>
<rect x="523" y="136" width="1" height="24" fill="#2f4f4f"/>
<rect x="522" y="152" width="3" height="1" fill="#2f4f4f"/>
<rect x="527" y="146" width="1" height="43" fill="#ff0000"/>
<rect x="526" y="152" width="3" height="22" fill="#ff0000"/>
<rect x="531" y="137" width="1" height="43" fill="#006400"/>
<rect x="530" y="141" width="3" height="34" fill="#006400"/>
<rect x="535" y="101" width="1" height="45" fill="#006400"/>
<rect x="534" y="110" width="3" height="32" fill="#006400"/>
<rect x="539" y="102" width="1" height="24" fill="#ff0000"/>
<rect x="538" y="111" width="3" height="10" fill="#ff0000"/>
<rect x="543" y="118" width="1" height="36" fill="#ff0000"/>
<rect x="542" y="118" width="3" height="28" fill="#ff0000"/>
<rect x="547" y="122" width="1" height="26" fill="#006400"/>
<rect x="546" y="125" width="3" height="20" fill="#006400"/>
<rect x="551" y="103" width="1" height="28" fill="#006400"/>
<rect x="550" y="106" width="3" height="20" fill="#006400"/>
<rect x="555" y="89" width="1" height="22" fill="#ff0000"/>
<rect x="554" y="106" width="3" height="3" fill="#ff0000"/>
<rect x="559" y="105" width="1" height="47" fill="#ff0000"/>
<rect x="558" y="108" width="3" height="41" fill="#ff0000"/>
<rect x="563" y="140" width="1" height="33" fill="#ff0000"/>
<rect x="562" y="151" width="3" height="14" fill="#ff0000"/>
<rect x="567" y="152" width="1" height="18" fill="#006400"/>
<rect x="566" y="157" width="3" height="8" fill="#006400"/>
<rect x="571" y="139" width="1" height="35" fill="#ff0000"/>
<rect x="570" y="158" width="3" height="4" fill="#ff0000"/>
<rect x="575" y="153" width="1" height="30" fill="#ff0000"/>
<rect x="574" y="161" width="3" height="1" fill="#ff0000"/>
<rect x="579" y="148" width="1" height="51" fill="#ff0000"/>
<rect x="578" y="162" width="3" height="34" fill="#ff0000"/>
<rect x="583" y="187" width="1" height="21" fill="#ff0000"/>
<rect x="582" y="192" width="3" height="11" fill="#ff0000"/>
<rect x="587" y="187" width="1" height="23" fill="#ff0000"/>
<rect x="586" y="202" width="3" height="3" fill="#ff0000"/>
<rect x="591" y="193" width="1" height="25" fill="#ff0000"/>
<rect x="590" y="204" width="3" height="13" fill="#ff0000"/>
<rect x="595" y="201" width="1" height="20" fill="#006400"/>
<rect x="594" y="206" width="3" height="10" fill="#006400"/>
<rect x="599" y="193" width="1" height="25" fill="#006400"/>
<rect x="598" y="197" width="3" height="9" fill="#006400"/>
<rect x="603" y="184" width="1" height="17" fill="#006400"/>
<rect x="602" y="190" width="3" height="9" fill="#006400"/>
<rect x="607" y="179" width="1" height="19" fill="#006400"/>
<rect x="606" y="184" width="3" height="7" fill="#006400"/>
<rect x="611" y="172" width="1" height="29" fill="#006400"/>
<rect x="610" y="174" width="3" height="10" fill="#006400"/>
<rect x="615" y="163" width="1" height="24" fill="#ff0000"/>
<rect x="614" y="173" width="3" height="7" fill="#ff0000"/>
<rect x="619" y="136" width="1" height="48" fill="#006400"/>
<rect x="618" y="142" width="3" height="38" fill="#006400"/>
<rect x="623" y="141" width="1" height="17" fill="#ff0000"/>
<rect x="622" y="143" width="3" height="4" fill="#ff0000"/>
<rect x="627" y="134" width="1" height="18" fill="#ff0000"/>
<rect x="626" y="145" width="3" height="3" fill="#ff0000"/>
<rect x="631" y="146" width="1" height="25" fill="#ff0000"/>
<rect x="630" y="147" width="3" height="4" fill="#ff0000"/>
<rect x="635" y="137" width="1" height="19" fill="#006400"/>
<rect x="634" y="140" width="3" height="11" fill="#006400"/>
<rect x="639" y="132" width="1" height="28" fill="#ff0000"/>
<rect x="638" y="140" width="3" height="8" fill="#ff0000"/>
<rect x="643" y="111" width="1" height="40" fill="#006400"/>
<rect x="642" y="121" width="3" height="28" fill="#006400"/>
<rect x="647" y="106" width="1" height="17" fill="#006400"/>
<rect x="646" y="117" width="3" height="5" fill="#006400"/>
<rect x="651" y="111" width="1" height="14" fill="#ff0000"/>
<rect x="650" y="117" width="3" height="3" fill="#ff0000"/>
<rect x="655" y="107" width="1" height="34" fill="#ff0000"/>
<rect x="654" y="119" width="3" height="19" fill="#ff0000"/>
<rect x="659" y="132" width="1" height="24" fill="#ff0000"/>
<rect x="658" y="137" width="3" height="5" fill="#ff0000"/>
<rect x="663" y="119" width="1" height="32" fill="#006400"/>
<rect x="662" y="126" width="3" height="16" fill="#006400"/>
<rect x="667" y="109" width="1" height="21" fill="#006400"/>
<rect x="666" y="112" width="3" height="16" fill="#006400"/>
<rect x="671" y="90" width="1" height="30" fill="#006400"/>
<rect x="670" y="99" width="3" height="16" fill="#006400"/>
<rect x="675" y="97" width="1" height="27" fill="#ff0000"/>
<rect x="674" y="99" width="3" height="15" fill="#ff0000"/>
<rect x="679" y="88" width="1" height="28" fill="#006400"/>
<rect x="678" y="96" width="3" height="18" fill="#006400"/>
<rect x="683" y="74" width="1" height="22" fill="#006400"/>
<rect x="682" y="78" width="3" height="13" fill="#006400"/>
<rect x="687" y="53" width="1" height="29" fill="#006400"/>
<rect x="686" y="60" width="3" height="21" fill="#006400"/>
<rect x="691" y="39" width="1" height="25" fill="#ff0000"/>
<rect x="690" y="61" width="3" height="2" fill="#ff0000"/>
<rect x="695" y="43" width="1" height="23" fill="#006400"/>
<rect x="694" y="50" width="3" height="12" fill="#006400"/>
<rect x="699" y="49" width="1" height="50" fill="#ff0000"/>
<rect x="698" y="50" width="3" height="42" fill="#ff0000"/>
<rect x="703" y="77" width="1" height="41" fill="#ff0000"/>
<rect x="702" y="97" width="3" height="17" fill="#ff0000"/>
<rect x="707" y="91" width="1" height="23" fill="#006400"/>
<rect x="706" y="103" width="3" height="5" fill="#006400"/>
<rect x="711" y="78" width="1" height="53" fill="#ff0000"/>
<rect x="710" y="104" width="3" height="16" fill="#ff0000"/>
<rect x="715" y="91" width="1" height="35" fill="#006400"/>
<rect x="714" y="92" width="3" height="28" fill="#006400"/>
<rect x="719" y="52" width="1" height="54" fill="#006400"/>
<rect x="718" y="57" width="3" height="33" fill="#006400"/>
<rect x="723" y="27" width="1" height="44" fill="#ff0000"/>
<rect x="722" y="33" width="3" height="26" fill="#ff0000"/>
<rect x="727" y="58" width="1" height="64" fill="#ff0000"/>
<rect x="726" y="60" width="3" height="57" fill="#ff0000"/>
<rect x="731" y="114" width="1" height="38" fill="#ff0000"/>
<rect x="730" y="115" width="3" height="12" fill="#ff0000"/>
<rect x="735" y="124" width="1" height="23" fill="#ff0000"/>
<rect x="734" y="128" width="3" height="5" fill="#ff0000"/>
</g>
<g id="macd">
<rect x="2" y="465" width="3" height="10" fill="#006400"/>
<rect x="6" y="463" width="3" height="12" fill="#006400"/>
<rect x="10" y="462" width="3" height="13" fill="#006400"/>
<rect x="14" y="461" width="3" height="14" fill="#006400"/>
<rect x="18" y="459" width="3" height="16" fill="#006400"/>
<rect x="22" y="457" width="3" height="18" fill="#006400"/>
<rect x="26" y="457" width="3" height="18" fill="#006400"/>
<rect x="30" y="457" width="3" height="18" fill="#006400"/>
<rect x="34" y="458" width="3" height="17" fill="#006400"/>
<rect x="38" y="459" width="3" height="16" fill="#006400"/>
<rect x="42" y="460" width="3" height="15" fill="#006400"/>
<rect x="46" y="461" width="3" height="14" fill="#006400"/>
<rect x="50" y="463" width="3" height="12" fill="#006400"/>
<rect x="54" y="464" width="3" height="11" fill="#006400"/>
<rect x="58" y="465" width="3" height="10" fill="#006400"/>
<rect x="62" y="467" width="3" height="8" fill="#006400"/>
<rect x="66" y="469" width="3" height="6" fill="#006400"/>
<rect x="70" y="473" width="3" height="2" fill="#006400"/>
<rect x="74" y="475" width="3" height="2" fill="#006400"/>
<rect x="78" y="475" width="3" height="5" fill="#006400"/>
<rect x="82" y="475" width="3" height="7" fill="#006400"/>
<rect x="86" y="475" width="3" height="9" fill="#006400"/>
<rect x="90" y="475" width="3" height="11" fill="#006400"/>
<rect x="94" y="475" width="3" height="14" fill="#006400"/>
<rect x="98" y="475" width="3" height="15" fill="#006400"/>
<rect x="102" y="475" width="3" height="17" fill="#006400"/>
<rect x="106" y="475" width="3" height="20" fill="#006400"/>
<rect x="110" y="475" width="3" height="22" fill="#006400"/>
<rect x="114" y="475" width="3" height="25" fill="#006400"/>
<rect x="118" y="475" width="3" height="28" fill="#006400"/>
<rect x="122" y="475" width="3" height="32" fill="#006400"/>
<rect x="126" y="475" width="3" height="34" fill="#006400"/>
<rect x="130" y="475" width="3" height="34" fill="#006400"/>
<rect x="134" y="475" width="3" height="30" fill="#006400"/>
<rect x="138" y="475" width="3" height="29" fill="#006400"/>
<rect x="142" y="475" width="3" height="28" fill="#006400"/>
<rect x="146" y="475" width="3" height="26" fill="#006400"/>
<rect x="150" y="475" width="3" height="24" fill="#006400"/>
<rect x="154" y="475" width="3" height="22" fill="#006400"/>
<rect x="158" y="475" width="3" height="18" fill="#006400"/>
<rect x="162" y="475" width="3" height="15" fill="#006400"/>
<rect x="166" y="475" width="3" height="12" fill="#006400"/>
<rect x="170" y="475" width="3" height="9" fill="#006400"/>
<rect x="174" y="475" width="3" height="9" fill="#006400"/>
<rect x="178" y="475" width="3" height="9" fill="#006400"/>
<rect x="182" y="475" width="3" height="9" fill="#006400"/>
<rect x="186" y="475" width="3" height="8" fill="#006400"/>
<rect x="190" y="475" width="3" height="8" fill="#006400"/>
<rect x="194" y="475" width="3" height="8" fill="#006400"/>
<rect x="198" y="475" width="3" height="7" fill="#006400"/>
<rect x="202" y="475" width="3" height="5" fill="#006400"/>
<rect x="206" y="475" width="3" height="4" fill="#006400"/>
<rect x="210" y="475" width="3" height="4" fill="#006400"/>
<rect x="214" y="475" width="3" height="5" fill="#006400"/>
<rect x="218" y="475" width="3" height="6" fill="#006400"/>
<rect x="222" y="475" width="3" height="7" fill="#006400"/>
<rect x="226" y="475" width="3" height="8" fill="#006400"/>
<rect x="230" y="475" width="3" height="8" fill="#006400"/>
<rect x="234" y="475" width="3" height="10" fill="#006400"/>
<rect x="238" y="475" width="3" height="9" fill="#006400"/>
<rect x="242" y="475" width="3" height="7" fill="#006400"/>
<rect x="246" y="475" width="3" height="5" fill="#006400"/>
<rect x="250" y="475" width="3" height="2" fill="#006400"/>
<rect x="254" y="475" width="3" height="1" fill="#006400"/>
<rect x="262" y="475" width="3" height="2" fill="#006400"/>
<rect x="266" y="475" width="3" height="3" fill="#006400"/>
<rect x="270" y="475" width="3" height="3" fill="#006400"/>
<rect x="274" y="475" width="3" height="1" fill="#006400"/>
<rect x="278" y="474" width="3" height="1" fill="#006400"/>
<rect x="282" y="473" width="3" height="2" fill="#006400"/>
<rect x="286" y="472" width="3" height="3" fill="#006400"/>
<rect x="322" y="472" width="3" height="3" fill="#006400"/>
<rect x="326" y="472" width="3" height="3" fill="#006400"/>
<rect x="330" y="471" width="3" height="4" fill="#006400"/>
<rect x="334" y="470" width="3" height="5" fill="#006400"/>
<rect x="338" y="471" width="3" height="4" fill="#006400"/>
<rect x="342" y="470" width="3" height="5" fill="#006400"/>
<rect x="346" y="469" width="3" height="6" fill="#006400"/>
<rect x="350" y="467" width="3" height="8" fill="#006400"/>
<rect x="354" y="465" width="3" height="10" fill="#006400"/>
<rect x="358" y="465" width="3" height="10" fill="#006400"/>
<rect x="362" y="465" width="3" height="10" fill="#006400"/>
<rect x="366" y="465" width="3" height="10" fill="#006400"/>
<rect x="370" y="465" width="3" height="10" fill="#006400"/>
<rect x="374" y="465" width="3" height="10" fill="#006400"/>
<rect x="378" y="465" width="3" height="10" fill="#006400"/>
<rect x="382" y="464" width="3" height="11" fill="#006400"/>
<rect x="386" y="464" width="3" height="11" fill="#006400"/>
<rect x="390" y="463" width="3" height="12" fill="#006400"/>
<rect x="394" y="462" width="3" height="13" fill="#006400"/>
<rect x="398" y="461" width="3" height="14" fill="#006400"/>
<rect x="402" y="459" width="3" height="16" fill="#006400"/>
<rect x="406" y="458" width="3" height="17" fill="#006400"/>
<rect x="410" y="457" width="3" height="18" fill="#006400"/>
<rect x="414" y="455" width="3" height="20" fill="#006400"/>
<rect x="418" y="453" width="3" height="22" fill="#006400"/>
<rect x="422" y="451" width="3" height="24" fill="#006400"/>
<rect x="426" y="450" width="3" height="25" fill="#006400"/>
<rect x="430" y="449" width="3" height="26" fill="#006400"/>
<rect x="434" y="450" width="3" height="25" fill="#006400"/>
<rect x="438" y="449" width="3" height="26" fill="#006400"/>
<rect x="442" y="451" width="3" height="24" fill="#006400"/>
<rect x="446" y="452" width="3" height="23" fill="#006400"/>
<rect x="450" y="453" width="3" height="22" fill="#006400"/>
<rect x="454" y="454" width="3" height="21" fill="#006400"/>
<rect x="458" y="456" width="3" height="19" fill="#006400"/>
<rect x="462" y="458" width="3" height="17" fill="#006400"/>
<rect x="466" y="459" width="3" height="16" fill="#006400"/>
<rect x="470" y="462" width="3" height="13" fill="#006400"/>
<rect x="474" y="462" width="3" height="13" fill="#006400"/>
<rect x="478" y="463" width="3" height="12" fill="#006400"/>
<rect x="482" y="466" width="3" height="9" fill="#006400"/>
<rect x="486" y="469" width="3" height="6" fill="#006400"/>
<rect x="490" y="471" width="3" height="4" fill="#006400"/>
<rect x="494" y="472" width="3" height="3" fill="#006400"/>
<rect x="498" y="472" width="3" height="3" fill="#006400"/>
<rect x="502" y="473" width="3" height="2" fill="#006400"/>
<rect x="506" y="472" width="3" height="3" fill="#006400"/>
<rect x="510" y="472" width="3" height="3" fill="#006400"/>
<rect x="514" y="473" width="3" height="2" fill="#006400"/>
<rect x="522" y="475" width="3" height="1" fill="#006400"/>
<rect x="526" y="475" width="3" height="3" fill="#006400"/>
<rect x="530" y="475" width="3" height="2" fill="#006400"/>
<rect x="534" y="475" width="3" height="2" fill="#006400"/>
<rect x="542" y="475" width="3" height="2" fill="#006400"/>
<rect x="546" y="475" width="3" height="1" fill="#006400"/>
<rect x="554" y="473" width="3" height="2" fill="#006400"/>
<rect x="562" y="475" width="3" height="1" fill="#006400"/>
<rect x="566" y="475" width="3" height="2" fill="#006400"/>
<rect x="570" y="475" width="3" height="3" fill="#006400"/>
<rect x="574" y="475" width="3" height="4" fill="#006400"/>
<rect x="578" y="475" width="3" height="6" fill="#006400"/>
<rect x="582" y="475" width="3" height="8" fill="#006400"/>
<rect x="586" y="475" width="3" height="9" fill="#006400"/>
<rect x="590" y="475" width="3" height="10" fill="#006400"/>
<rect x="594" y="475" width="3" height="11" fill="#006400"/>
<rect x="598" y="475" width="3" height="11" fill="#006400"/>
<rect x="602" y="475" width="3" height="11" fill="#006400"/>
<rect x="606" y="475" width="3" height="9" fill="#006400"/>
<rect x="610" y="475" width="3" height="8" fill="#006400"/>
<rect x="614" y="475" width="3" height="8" fill="#006400"/>
<rect x="618" y="475" width="3" height="6" fill="#006400"/>
<rect x="622" y="475" width="3" height="5" fill="#006400"/>
<rect x="626" y="475" width="3" height="3" fill="#006400"/>
<rect x="630" y="475" width="3" height="2" fill="#006400"/>
<rect x="634" y="475" width="3" height="1" fill="#006400"/>
<rect x="638" y="475" width="3" height="1" fill="#006400"/>
<rect x="642" y="473" width="3" height="2" fill="#006400"/>
<rect x="646" y="472" width="3" height="3" fill="#006400"/>
<rect x="650" y="471" width="3" height="4" fill="#006400"/>
<rect x="654" y="471" width="3" height="4" fill="#006400"/>
<rect x="658" y="471" width="3" height="4" fill="#006400"/>
<rect x="662" y="471" width="3" height="4" fill="#006400"/>
<rect x="666" y="470" width="3" height="5" fill="#006400"/>
<rect x="670" y="469" width="3" height="6" fill="#006400"/>
<rect x="674" y="469" width="3" height="6" fill="#006400"/>
<rect x="678" y="468" width="3" height="7" fill="#006400"/>
<rect x="682" y="467" width="3" height="8" fill="#006400"/>
<rect x="686" y="465" width="3" height="10" fill="#006400"/>
<rect x="690" y="464" width="3" height="11" fill="#006400"/>
<rect x="694" y="463" width="3" height="12" fill="#006400"/>
<rect x="698" y="464" width="3" height="11" fill="#006400"/>
<rect x="702" y="465" width="3" height="10" fill="#006400"/>
<rect x="706" y="466" width="3" height="9" fill="#006400"/>
<rect x="710" y="468" width="3" height="7" fill="#006400"/>
<rect x="714" y="467" width="3" height="8" fill="#006400"/>
<rect x="718" y="466" width="3" height="9" fill="#006400"/>
<rect x="722" y="465" width="3" height="10" fill="#006400"/>
<rect x="726" y="468" width="3" height="7" fill="#006400"/>
<rect x="730" y="470" width="3" height="5" fill="#006400"/>
<rect x="734" y="472" width="3" height="3" fill="#006400"/>
</g>
<polyline points="3.5,469.3 7.5,468.8 11.5,467.9 15.5,466.6 19.5,465.2 23.5,463.0 27.5,460.8 31.5,459.7 35.5,459.2 39.5,459.1 43.5,459.0 47.5,459.1 51.5,459.3 55.5,459.8 59.5,460.5 63.5,461.2 67.5,462.2 71.5,464.4 75.5,467.1 79.5,469.7 83.5,472.1 87.5,474.1 91.5,476.3 95.5,479.7 99.5,483.1 103.5,486.1 107.5,488.9 111.5,491.5 115.5,493.9 119.5,496.1 123.5,498.0 127.5,499.7 131.5,501.2 135.5,502.7 139.5,503.7 143.5,503.7 147.5,503.7 151.5,503.7 155.5,503.7 159.5,501.8 163.5,499.0 167.5,496.3 171.5,493.6 175.5,491.5 179.5,489.6 183.5,487.7 187.5,486.0 191.5,484.8 195.5,483.9 199.5,482.9 203.5,481.9 207.5,480.9 211.5,480.4 215.5,480.3 219.5,480.2 223.5,480.2 227.5,480.2 231.5,480.3 235.5,481.0 239.5,480.9 243.5,480.7 247.5,480.5 251.5,480.2 255.5,479.9 259.5,479.9 263.5,479.9 267.5,479.5 271.5,478.6 275.5,477.8 279.5,477.0 283.5,476.2 287.5,475.5 291.5,475.1 295.5,474.9 299.5,474.8 303.5,474.7 307.5,474.6 311.5,474.5 315.5,474.3 319.5,474.2 323.5,474.0 327.5,473.8 331.5,473.4 335.5,473.1 339.5,472.7 343.5,472.3 347.5,471.7 351.5,471.0 355.5,470.1 359.5,469.2 363.5,468.4 367.5,467.5 371.5,466.5 375.5,465.6 379.5,465.2 383.5,465.0 387.5,464.8 391.5,464.3 395.5,464.0 399.5,463.9 403.5,463.5 407.5,462.3 411.5,461.0 415.5,460.1 419.5,459.2 423.5,458.0 427.5,456.7 431.5,455.7 435.5,454.7 439.5,452.9 443.5,451.4 447.5,451.0 451.5,450.8 455.5,450.9 459.5,451.2 463.5,451.9 467.5,453.6 471.5,455.4 475.5,456.2 479.5,457.1 483.5,459.1 487.5,461.4 491.5,463.4 495.5,465.1 499.5,466.6 503.5,467.9 507.5,469.1 511.5,470.1 515.5,470.8 519.5,471.4 523.5,472.2 527.5,473.0 531.5,473.9 535.5,474.5 539.5,474.6 543.5,474.6 547.5,474.6 551.5,474.6 555.5,474.6 559.5,474.6 563.5,474.6 567.5,474.6 571.5,474.8 575.5,475.8 579.5,476.6 583.5,477.5 587.5,478.5 591.5,479.6 595.5,480.6 599.5,481.7 603.5,482.7 607.5,483.3 611.5,483.7 615.5,483.8 619.5,483.8 623.5,483.7 627.5,482.8 631.5,481.3 635.5,480.3 639.5,479.2 643.5,478.2 647.5,477.0 651.5,475.0 655.5,474.1 659.5,473.5 663.5,472.8 667.5,472.2 671.5,471.6 675.5,471.0 679.5,470.5 683.5,469.8 687.5,468.7 691.5,467.5 695.5,466.7 699.5,466.0 703.5,465.4 707.5,465.1 711.5,465.1 715.5,465.1 719.5,465.2 723.5,465.6 727.5,465.9 731.5,466.4 735.5,467.5" fill="none" stroke="#ff0000" stroke-width="2" stroke-linejoin="round"/>
<polyline points="691.2,460.6 747.5,469.0" fill="none" stroke="#c71585" stroke-width="2" stroke-linejoin="round"/>
<polyline points="3.5,538.1 7.5,537.9 11.5,537.6 15.5,536.2 19.5,535.1 23.5,536.0 27.5,537.6 31.5,538.1 35.5,540.2 39.5,541.8 43.5,541.0 47.5,543.2 51.5,545.2 55.5,544.8 59.5,548.9 63.5,547.7 67.5,552.7 71.5,556.9 75.5,560.6 79.5,558.9 83.5,558.5 87.5,561.7 91.5,563.3 95.5,563.9 99.5,563.7 103.5,563.4 107.5,564.3 111.5,567.2 115.5,568.7 119.5,569.0 123.5,568.7 127.5,567.1 131.5,559.5 135.5,557.8 139.5,558.9 143.5,558.0 147.5,554.0 151.5,555.5 155.5,551.3 159.5,546.5 163.5,547.7 167.5,545.3 171.5,545.9 175.5,550.7 179.5,551.5 183.5,551.5 187.5,548.9 191.5,552.6 195.5,552.7 199.5,546.9 203.5,546.0 207.5,545.9 211.5,551.3 215.5,553.9 219.5,553.9 223.5,552.6 227.5,552.2 231.5,553.7 235.5,556.1 239.5,549.6 243.5,546.2 247.5,545.1 251.5,544.4 255.5,542.7 259.5,548.1 263.5,551.9 267.5,551.9 271.5,551.9 275.5,544.5 279.5,544.3 283.5,544.3 287.5,545.2 291.5,551.4 295.5,551.9 299.5,546.9 303.5,548.0 307.5,547.1 311.5,546.7 315.5,546.6 319.5,545.6 323.5,545.1 327.5,545.0 331.5,544.8 335.5,544.0 339.5,545.2 343.5,544.8 347.5,541.4 351.5,537.6 355.5,538.0 359.5,542.7 363.5,542.7 367.5,541.7 371.5,541.7 375.5,544.0 379.5,540.3 383.5,539.8 387.5,541.0 391.5,539.5 395.5,538.6 399.5,536.5 403.5,536.1 407.5,533.6 411.5,532.5 415.5,531.7 419.5,529.4 423.5,529.3 427.5,529.4 431.5,531.8 435.5,531.8 439.5,530.9 443.5,534.7 447.5,537.5 451.5,538.8 455.5,536.5 459.5,543.8 463.5,543.9 467.5,544.2 471.5,548.2 475.5,541.5 479.5,545.1 483.5,551.8 487.5,551.9 491.5,551.9 495.5,549.2 499.5,548.1 503.5,548.0 507.5,545.0 511.5,544.3 515.5,550.6 519.5,551.9 523.5,551.9 527.5,553.9 531.5,549.6 535.5,546.0 539.5,546.0 543.5,549.9 547.5,547.2 551.5,545.3 555.5,545.7 559.5,550.6 563.5,551.9 567.5,551.9 571.5,551.9 575.5,552.3 579.5,556.6 583.5,557.1 587.5,557.3 591.5,558.1 595.5,556.4 599.5,554.7 603.5,553.3 607.5,551.6 611.5,550.6 615.5,550.3 619.5,545.2 623.5,545.0 627.5,545.0 631.5,545.0 635.5,544.9 639.5,544.8 643.5,541.1 647.5,541.0 651.5,541.2 655.5,545.2 659.5,545.6 663.5,543.8 667.5,540.9 671.5,539.8 675.5,541.9 679.5,539.2 683.5,536.6 687.5,534.8 691.5,534.8 695.5,535.0 699.5,544.4 703.5,547.5 707.5,546.6 711.5,549.0 715.5,544.8 719.5,540.4 723.5,539.8 727.5,549.0 731.5,551.2 735.5,552.2" fill="none" stroke="#ff0000" stroke-width="2" stroke-linejoin="round"/>
<rect x="2.5" y="2.5" width="758" height="441" fill="none" stroke="#000" stroke-width="1"/>
<rect x="2.5" y="445.5" width="758" height="66" fill="none" stroke="#000" stroke-width="1"/>
<rect x="2.5" y="513.5" width="758" height="69" fill="none" stroke="#000" stroke-width="1"/>
<g id="axis" font-size="9.7px" fill="#000" stroke="#000" stroke-width="0.3" shape-rendering="auto">
<rect x="761" y="32" width="2" height="1" fill="#000" stroke="none" shape-rendering="crispEdges"/>
<text x="766.3" y="35.3" textLength="26.8" lengthAdjust="spacingAndGlyphs">1.6325</text>
<rect x="761" y="66" width="2" height="1" fill="#000" stroke="none" shape-rendering="crispEdges"/>
<text x="766.3" y="69.3" textLength="26.8" lengthAdjust="spacingAndGlyphs">1.6235</text>
<rect x="761" y="100" width="2" height="1" fill="#000" stroke="none" shape-rendering="crispEdges"/>
<text x="766.3" y="103.3" textLength="26.8" lengthAdjust="spacingAndGlyphs">1.6145</text>
<rect x="761" y="168" width="2" height="1" fill="#000" stroke="none" shape-rendering="crispEdges"/>
<text x="766.3" y="171.3" textLength="26.8" lengthAdjust="spacingAndGlyphs">1.5965</text>
<rect x="761" y="202" width="2" height="1" fill="#000" stroke="none" shape-rendering="crispEdges"/>
<text x="766.3" y="205.3" textLength="26.8" lengthAdjust="spacingAndGlyphs">1.5875</text>
<rect x="761" y="236" width="2" height="1" fill="#000" stroke="none" shape-rendering="crispEdges"/>
<text x="766.3" y="239.3" textLength="26.8" lengthAdjust="spacingAndGlyphs">1.5785</text>
<rect x="761" y="270" width="2" height="1" fill="#000" stroke="none" shape-rendering="crispEdges"/>
<text x="766.3" y="273.3" textLength="26.8" lengthAdjust="spacingAndGlyphs">1.5695</text>
<rect x="761" y="304" width="2" height="1" fill="#000" stroke="none" shape-rendering="crispEdges"/>
<text x="766.3" y="307.3" textLength="26.8" lengthAdjust="spacingAndGlyphs">1.5605</text>
<rect x="761" y="338" width="2" height="1" fill="#000" stroke="none" shape-rendering="crispEdges"/>
<text x="766.3" y="341.3" textLength="26.8" lengthAdjust="spacingAndGlyphs">1.5515</text>
<rect x="761" y="372" width="2" height="1" fill="#000" stroke="none" shape-rendering="crispEdges"/>
<text x="766.3" y="375.3" textLength="26.8" lengthAdjust="spacingAndGlyphs">1.5425</text>
<rect x="761" y="405" width="2" height="1" fill="#000" stroke="none" shape-rendering="crispEdges"/>
<text x="766.3" y="408.3" textLength="26.8" lengthAdjust="spacingAndGlyphs">1.5340</text>
<rect x="761" y="439" width="2" height="1" fill="#000" stroke="none" shape-rendering="crispEdges"/>
<text x="766.3" y="442.3" textLength="26.8" lengthAdjust="spacingAndGlyphs">1.5250</text>
<rect x="761" y="447" width="2" height="1" fill="#000" stroke="none" shape-rendering="crispEdges"/>
<text x="765" y="455.9" textLength="26.8" lengthAdjust="spacingAndGlyphs">0.0149</text>
<rect x="761" y="474" width="2" height="1" fill="#000" stroke="none" shape-rendering="crispEdges"/>
<text x="765" y="477.8" textLength="17" lengthAdjust="spacingAndGlyphs">0.00</text>
<rect x="761" y="510" width="2" height="1" fill="#000" stroke="none" shape-rendering="crispEdges"/>
<text x="765" y="508.1" textLength="35" lengthAdjust="spacingAndGlyphs">-0.01843</text>
<rect x="761" y="515" width="2" height="1" fill="#000" stroke="none" shape-rendering="crispEdges"/>
<text x="765" y="523.9" textLength="14.5" lengthAdjust="spacingAndGlyphs">100</text>
<rect x="761" y="535" width="2" height="1" fill="#000" stroke="none" shape-rendering="crispEdges"/>
<text x="765" y="537.9" textLength="9.5" lengthAdjust="spacingAndGlyphs">70</text>
<rect x="761" y="561" width="2" height="1" fill="#000" stroke="none" shape-rendering="crispEdges"/>
<text x="765" y="563.8" textLength="9.5" lengthAdjust="spacingAndGlyphs">30</text>
<rect x="761" y="582" width="2" height="1" fill="#000" stroke="none" shape-rendering="crispEdges"/>
<text x="765" y="578.7" textLength="4.8" lengthAdjust="spacingAndGlyphs">0</text>
<rect x="762" y="127" width="36" height="11" fill="#000" stroke="none" shape-rendering="crispEdges"/>
<text x="766.3" y="135.9" fill="#fff" stroke="#fff" textLength="26.8" lengthAdjust="spacingAndGlyphs">1.6057</text>
<rect x="3" y="583" width="1" height="4" fill="#000" stroke="none" shape-rendering="crispEdges"/>
<text x="2.6" y="594.5" textLength="49" lengthAdjust="spacingAndGlyphs">23 Apr 2012</text>
<rect x="67" y="583" width="1" height="4" fill="#000" stroke="none" shape-rendering="crispEdges"/>
<text x="66.6" y="594.5" textLength="53" lengthAdjust="spacingAndGlyphs">15 May 2012</text>
<rect x="131" y="583" width="1" height="4" fill="#000" stroke="none" shape-rendering="crispEdges"/>
<text x="130.6" y="594.5" textLength="43" lengthAdjust="spacingAndGlyphs">6 Jun 2012</text>
<rect x="195" y="583" width="1" height="4" fill="#000" stroke="none" shape-rendering="crispEdges"/>
<text x="194.6" y="594.5" textLength="48.6" lengthAdjust="spacingAndGlyphs">28 Jun 2012</text>
<rect x="259" y="583" width="1" height="4" fill="#000" stroke="none" shape-rendering="crispEdges"/>
<text x="258.6" y="594.5" textLength="45.5" lengthAdjust="spacingAndGlyphs">20 Jul 2012</text>
<rect x="323" y="583" width="1" height="4" fill="#000" stroke="none" shape-rendering="crispEdges"/>
<text x="322.6" y="594.5" textLength="50.6" lengthAdjust="spacingAndGlyphs">13 Aug 2012</text>
<rect x="387" y="583" width="1" height="4" fill="#000" stroke="none" shape-rendering="crispEdges"/>
<text x="386.6" y="594.5" textLength="43" lengthAdjust="spacingAndGlyphs">4 Sep 2012</text>
<rect x="451" y="583" width="1" height="4" fill="#000" stroke="none" shape-rendering="crispEdges"/>
<text x="450.6" y="594.5" textLength="49.6" lengthAdjust="spacingAndGlyphs">26 Sep 2012</text>
<rect x="515" y="583" width="1" height="4" fill="#000" stroke="none" shape-rendering="crispEdges"/>
<text x="514.6" y="594.5" textLength="49.5" lengthAdjust="spacingAndGlyphs">18 Oct 2012</text>
<rect x="579" y="583" width="1" height="4" fill="#000" stroke="none" shape-rendering="crispEdges"/>
<text x="578.6" y="594.5" textLength="47" lengthAdjust="spacingAndGlyphs">9 Nov 2012</text>
<rect x="643" y="583" width="1" height="4" fill="#000" stroke="none" shape-rendering="crispEdges"/>
<text x="642.6" y="594.5" textLength="44" lengthAdjust="spacingAndGlyphs">3 Dec 2012</text>
<rect x="707" y="583" width="1" height="4" fill="#000" stroke="none" shape-rendering="crispEdges"/>
<text x="706.6" y="594.5" textLength="50" lengthAdjust="spacingAndGlyphs">26 Dec 2012</text>
<text x="7.3" y="13.8" textLength="63.6" lengthAdjust="spacingAndGlyphs">GBPUSD,Daily</text>
<text x="77.4" y="13.8" textLength="120" lengthAdjust="spacingAndGlyphs" xml:space="preserve">1.6071 1.6082 1.6020 1.6057</text>
<text x="8" y="458.4" textLength="137" lengthAdjust="spacingAndGlyphs">MACD(12,26,9) 0.00170 0.00374</text>
<text x="7.5" y="526.8" textLength="67" lengthAdjust="spacingAndGlyphs">RSI(14) 44.7203</text>
<text x="5.3" y="579" font-size="11.5px" textLength="267" lengthAdjust="spacingAndGlyphs">FBS Trader, © 2001-2012, MetaQuotes Software Corp.</text>
</g>
<text x="484" y="316.6" font-size="16.5px" style="font-family:'DejaVu Sans','Liberation Sans',sans-serif" fill="#8d7b7b" fill-opacity="0.55" textLength="309.5" lengthAdjust="spacingAndGlyphs" shape-rendering="auto">Портал для трейдеров - ForTrader.ru</text>
</svg></body></html>
